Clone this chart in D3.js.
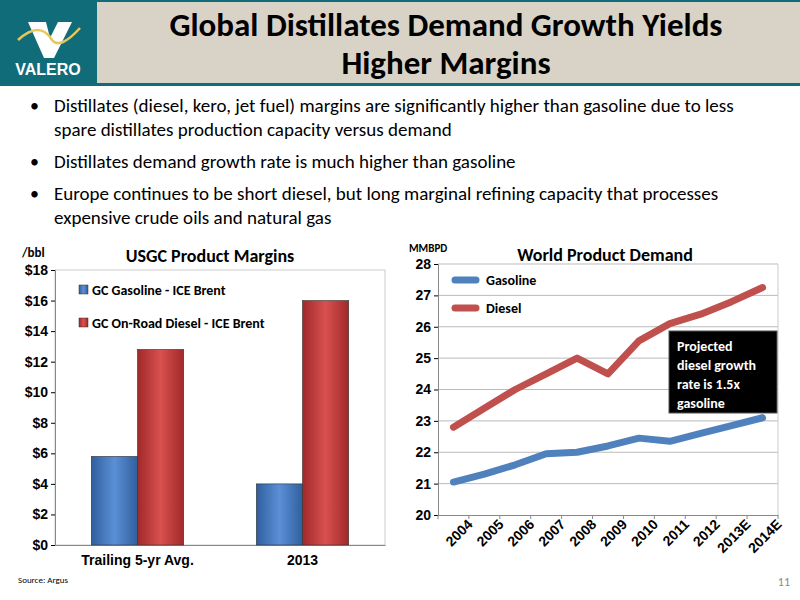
<!DOCTYPE html>
<html lang="en">
<head>
<meta charset="UTF-8">
<script src="https://d3js.org/d3.v7.min.js"></script>
<style>
  body { margin: 0; background: #fff; }
  svg { font-family: Calibri, Carlito, "Open Sans", sans-serif; }
</style>
</head>
<body>
<svg id="canvas" width="800" height="600"></svg>
<script>
// bar chart data
let barCategories = ['Trailing 5-yr Avg.', '2013']
let barSeries = ['GC Gasoline - ICE Brent', 'GC On-Road Diesel - ICE Brent']
let gasolineMargin = [5.8, 4.0]
let dieselMargin = [12.8, 16.0]
let marginTicks = [0, 2, 4, 6, 8, 10, 12, 14, 16, 18]

// line chart data
let years = ['2004', '2005', '2006', '2007', '2008', '2009', '2010', '2011', '2012', '2013E', '2014E']
let gasolineDemand = [21.05, 21.3, 21.6, 21.95, 22.0, 22.2, 22.45, 22.35, 22.6, 22.85, 23.1]
let dieselDemand = [22.8, 23.4, 24.0, 24.5, 25.0, 24.5, 25.55, 26.1, 26.4, 26.8, 27.25]
let demandTicks = [20, 21, 22, 23, 24, 25, 26, 27, 28]

let bullets = [
  ['Distillates (diesel, kero, jet fuel) margins are significantly higher than gasoline due to less', 'spare distillates production capacity versus demand'],
  ['Distillates demand growth rate is much higher than gasoline'],
  ['Europe continues to be short diesel, but long marginal refining capacity that processes', 'expensive crude oils and natural gas']
]

let svg = d3.select('#canvas')

// header
svg.append('rect').attr('x', 0).attr('y', 0).attr('width', 800).attr('height', 86).attr('fill', '#d9d3c7')
svg.append('rect').attr('x', 0).attr('y', 0).attr('width', 97).attr('height', 86).attr('fill', '#116c79')
svg.append('rect').attr('x', 0).attr('y', 83).attr('width', 800).attr('height', 3).attr('fill', '#116c79')
svg.append('rect').attr('x', 0).attr('y', 0).attr('width', 800).attr('height', 2).attr('fill', '#116c79')
// logo
svg.append('path').attr('d', 'M28,22 L46,22 L50,38 L58,22 L72,22 L54,58 L44,58 Z').attr('fill', '#fff')
svg.append('path').attr('d', 'M18,40 Q40,20 52,40 Q60,50 80,28').attr('fill', 'none').attr('stroke', '#e8c75a').attr('stroke-width', 2.5)
svg.append('text').attr('x', 48).attr('y', 75).attr('text-anchor', 'middle').attr('fill', '#fff')
  .attr('font-size', 16).attr('font-weight', 'bold').attr('font-family', 'Arial, sans-serif').text('VALERO')
svg.append('text').attr('x', 446).attr('y', 36).attr('text-anchor', 'middle').attr('font-size', 33).attr('font-weight', 'bold').text('Global Distillates Demand Growth Yields')
svg.append('text').attr('x', 446).attr('y', 74).attr('text-anchor', 'middle').attr('font-size', 33).attr('font-weight', 'bold').text('Higher Margins')

// bullets
let by = 112
bullets.forEach(lines => {
  svg.append('text').attr('x', 30).attr('y', by).attr('font-size', 18).text('•')
  lines.forEach((l, i) => {
    svg.append('text').attr('x', 54).attr('y', by + i * 24).attr('font-size', 19).text(l)
  })
  by += lines.length * 24 + 8
})

// ---- bar chart ----
let b = { left: 55, right: 385, top: 270, bottom: 545 }
let x0 = d3.scaleBand().domain(barCategories).range([b.left, b.right]).paddingInner(0.44).paddingOuter(0.22)
let x1 = d3.scaleBand().domain(barSeries).range([0, x0.bandwidth()])
let yB = d3.scaleLinear().domain([0, 18]).range([b.bottom, b.top])

svg.append('rect').attr('x', b.left).attr('y', b.top).attr('width', b.right - b.left).attr('height', b.bottom - b.top)
  .attr('fill', 'none').attr('stroke', '#ccc')
svg.append('g').attr('transform', `translate(${b.left},0)`)
  .call(d3.axisLeft(yB).tickValues(marginTicks).tickFormat(d => '$' + d).tickSize(4))
  .call(g => g.selectAll('text').attr('font-size', 14).attr('font-weight', 'bold').attr('fill', '#000'))
  .call(g => g.select('.domain').attr('stroke', '#888'))
svg.append('g').attr('transform', `translate(0,${b.bottom})`)
  .call(d3.axisBottom(x0).tickSize(0).tickPadding(10))
  .call(g => g.selectAll('text').attr('font-size', 14).attr('font-weight', 'bold').attr('fill', '#000'))
  .call(g => g.select('.domain').attr('stroke', '#888'))

let defs = svg.append('defs')
let mkGrad = (id, c1, c2) => {
  let gr = defs.append('linearGradient').attr('id', id)
  gr.append('stop').attr('offset', '0%').attr('stop-color', c1)
  gr.append('stop').attr('offset', '50%').attr('stop-color', c2)
  gr.append('stop').attr('offset', '100%').attr('stop-color', c1)
}
mkGrad('gBlue', '#2f5f9e', '#5b8fd6')
mkGrad('gRed', '#a0292a', '#d9504f')

let barData = barCategories.map((c, i) => [
  { cat: c, s: barSeries[0], v: gasolineMargin[i], fill: 'url(#gBlue)' },
  { cat: c, s: barSeries[1], v: dieselMargin[i], fill: 'url(#gRed)' }
]).flat()
svg.selectAll('.bar').data(barData).enter().append('rect')
  .attr('x', d => x0(d.cat) + x1(d.s))
  .attr('y', d => yB(d.v))
  .attr('width', x1.bandwidth())
  .attr('height', d => yB(0) - yB(d.v))
  .attr('fill', d => d.fill)
  .attr('stroke', '#333').attr('stroke-width', 0.6)

svg.append('text').attr('x', 210).attr('y', 262).attr('text-anchor', 'middle').attr('font-size', 18).attr('font-weight', 'bold').text('USGC Product Margins')
svg.append('text').attr('x', 22).attr('y', 257).attr('font-size', 13).attr('font-weight', 'bold').text('/bbl')
let legB = [{ t: barSeries[0], f: 'url(#gBlue)', y: 295 }, { t: barSeries[1], f: 'url(#gRed)', y: 328 }]
legB.forEach(l => {
  svg.append('rect').attr('x', 79).attr('y', l.y - 10).attr('width', 9).attr('height', 9).attr('fill', l.f).attr('stroke', '#333').attr('stroke-width', 0.5)
  svg.append('text').attr('x', 92).attr('y', l.y).attr('font-size', 14).attr('font-weight', 'bold').text(l.t)
})

// ---- line chart ----
let l = { left: 438, right: 778, top: 264, bottom: 515 }
let xL = d3.scalePoint().domain(years).range([l.left, l.right]).padding(0.5)
let yL = d3.scaleLinear().domain([20, 28]).range([l.bottom, l.top])

svg.append('g').selectAll('line').data(demandTicks.slice(1)).enter().append('line')
  .attr('x1', l.left).attr('x2', l.right).attr('y1', d => yL(d)).attr('y2', d => yL(d)).attr('stroke', '#bbb')
svg.append('line').attr('x1', l.right).attr('x2', l.right).attr('y1', l.top).attr('y2', l.bottom).attr('stroke', '#ccc')
svg.append('g').attr('transform', `translate(${l.left},0)`)
  .call(d3.axisLeft(yL).tickValues(demandTicks).tickSize(4))
  .call(g => g.selectAll('text').attr('font-size', 14).attr('font-weight', 'bold').attr('fill', '#000'))
  .call(g => g.select('.domain').attr('stroke', '#888'))
let xBand = d3.scaleBand().domain(years).range([l.left, l.right])
svg.append('g').attr('transform', `translate(0,${l.bottom})`)
  .call(d3.axisBottom(xBand).tickSize(0).tickPadding(6))
  .call(g => g.selectAll('.tick line').remove())
  .call(g => g.selectAll('text').attr('font-size', 14).attr('font-weight', 'bold').attr('fill', '#000')
    .attr('text-anchor', 'end').attr('transform', 'rotate(-45)').attr('dx', '0.5em').attr('dy', '1.1em'))
  .call(g => g.select('.domain').attr('stroke', '#888'))
svg.append('g').selectAll('line').data(years.concat(['end'])).enter().append('line')
  .attr('x1', (d, i) => l.left + i * xBand.bandwidth()).attr('x2', (d, i) => l.left + i * xBand.bandwidth())
  .attr('y1', l.bottom).attr('y2', l.bottom + 4).attr('stroke', '#888')

let line = d3.line().x((d, i) => xL(years[i])).y(d => yL(d))
svg.append('path').datum(gasolineDemand).attr('d', line).attr('fill', 'none').attr('stroke', '#4f81bd').attr('stroke-width', 7).attr('stroke-linecap', 'round').attr('stroke-linejoin', 'round')
svg.append('path').datum(dieselDemand).attr('d', line).attr('fill', 'none').attr('stroke', '#c0504d').attr('stroke-width', 7).attr('stroke-linecap', 'round').attr('stroke-linejoin', 'round')

svg.append('text').attr('x', 605).attr('y', 261).attr('text-anchor', 'middle').attr('font-size', 18).attr('font-weight', 'bold').text('World Product Demand')
svg.append('text').attr('x', 409).attr('y', 252).attr('font-size', 11).attr('font-weight', 'bold').text('MMBPD')
let legL = [{ t: 'Gasoline', c: '#4f81bd', y: 280 }, { t: 'Diesel', c: '#c0504d', y: 308 }]
legL.forEach(d => {
  svg.append('line').attr('x1', 455).attr('x2', 476).attr('y1', d.y).attr('y2', d.y).attr('stroke', d.c).attr('stroke-width', 7).attr('stroke-linecap', 'round')
  svg.append('text').attr('x', 486).attr('y', d.y + 5).attr('font-size', 14).attr('font-weight', 'bold').text(d.t)
})

// callout
svg.append('rect').attr('x', 669).attr('y', 331).attr('width', 108).attr('height', 82).attr('fill', '#000').attr('stroke', '#555')
;['Projected', 'diesel growth', 'rate is 1.5x', 'gasoline'].forEach((t, i) => {
  svg.append('text').attr('x', 677).attr('y', 351 + i * 19).attr('fill', '#fff').attr('font-size', 14).attr('font-weight', 'bold').text(t)
})

// footer
svg.append('text').attr('x', 18).attr('y', 583).attr('font-size', 9).text('Source:  Argus')
svg.append('text').attr('x', 790).attr('y', 586).attr('text-anchor', 'end').attr('font-size', 12).attr('fill', '#888').text('11')
</script>
</body>
</html>
